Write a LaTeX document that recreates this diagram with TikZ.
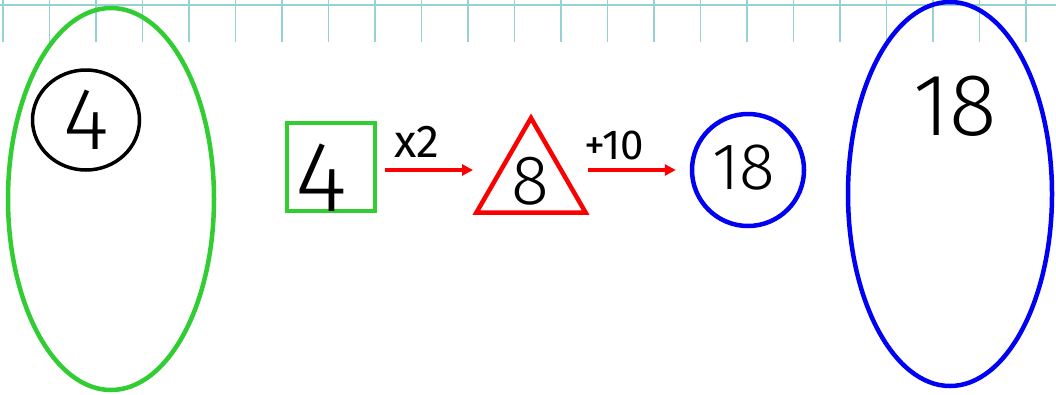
\documentclass[tikz,border=0pt]{standalone}
\usepackage{fontspec}
\setmainfont{Fira Sans Light}
\newfontfamily\handreg{Fira Sans}
\usetikzlibrary{shapes.geometric,arrows.meta}
\definecolor{gridc}{RGB}{150,210,210}
\definecolor{grn}{RGB}{50,205,50}
\definecolor{blu}{RGB}{0,0,245}
\definecolor{rd}{RGB}{250,0,0}
\tikzset{
  gridline/.style={draw=gridc, line width=1.4pt},
  bigell/.style={ellipse, line width=4.5pt, inner sep=0pt},
  arr/.style={draw=rd, line width=4pt, -{Triangle[length=11pt,width=11pt]}},
  num/.style={inner sep=0pt, text=black},
}
\begin{document}
\begin{tikzpicture}[x=1pt,y=-1pt]
\useasboundingbox[fill=white] (0,0) rectangle (1056,394);
% graph-paper strip
\foreach \i in {0,...,22} \draw[gridline] ({3+46.5*\i},0) -- ({3+46.5*\i},42);
\draw[draw=gridc, line width=2pt] (0,5) -- (1056,5);
% left set
\node[bigell, draw=grn, minimum width=206pt, minimum height=382pt] (setA) at (111,199) {};
\node[ellipse, draw=black, line width=3.5pt, minimum width=107pt, minimum height=100pt, inner sep=0pt] (c4) at (86,120) {};
\node[num, font=\fontsize{88}{88}\selectfont] (t4) at (c4) {4};
% right set
\node[bigell, draw=blu, minimum width=204pt, minimum height=384pt] (setB) at (950,194) {};
\node[num, font=\fontsize{88}{88}\selectfont] (t18) at (955,106) {18};
% machine
\node[draw=grn, line width=4.5pt, minimum size=88pt, inner sep=0pt] (sq) at (331,167) {};
\node[num, font=\fontsize{100}{100}\selectfont] (sq4) at (321,178) {4};
\node[regular polygon, regular polygon sides=3, draw=rd, line width=4.5pt, minimum size=126pt, inner sep=0pt] (tri) at (531,181) {};
\node[num, font=\fontsize{70}{70}\selectfont] (t8) at (530,181) {8};
\node[circle, draw=blu, line width=4.5pt, minimum size=112pt, inner sep=0pt] (circ) at (748,170) {};
\node[num, font=\fontsize{66}{66}\selectfont] (c18) at (744,168) {18};
% arrows
\coordinate (a1e) at (473,170);
\coordinate (a1s) at ([xshift=8pt]sq.east |- a1e);
\coordinate (a2s) at (588,170);
\coordinate (a2e) at ([xshift=-14pt]circ.west);
\draw[arr] (a1s) -- (a1e);
\draw[arr] (a2s) -- (a2e);
\node[num, font=\handreg\fontsize{46}{46}\selectfont] (l1) at (417,142) {x2};
\node[num, font=\handreg\fontsize{42}{42}\selectfont] (l2) at (614,145) {+10};
\end{tikzpicture}
\end{document}
